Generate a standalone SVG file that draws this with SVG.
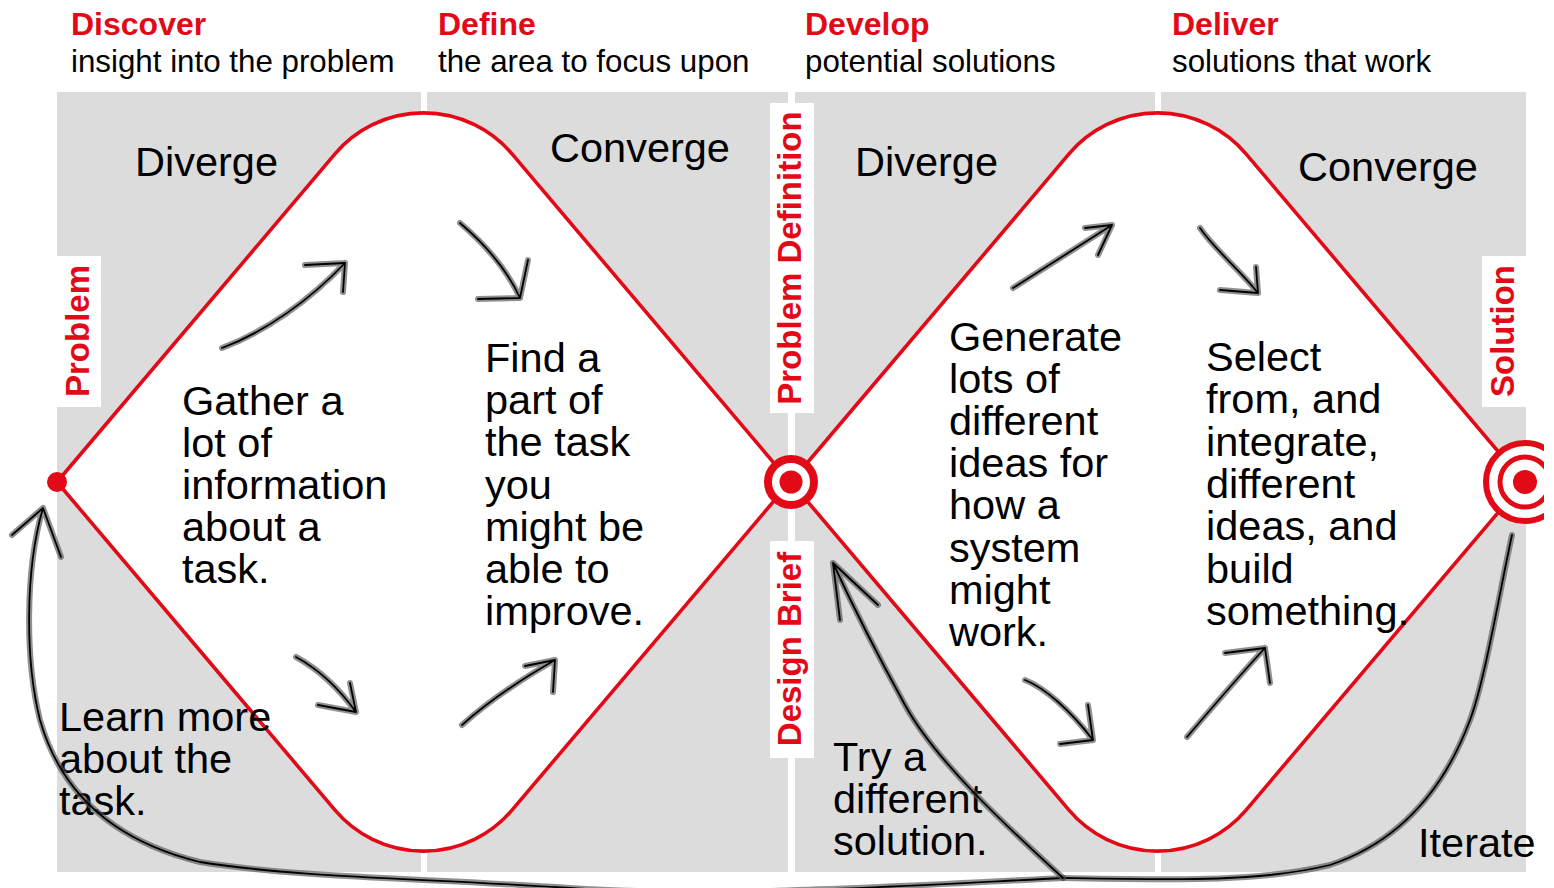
<svg xmlns="http://www.w3.org/2000/svg" xmlns:xlink="http://www.w3.org/1999/xlink" width="1554" height="888" viewBox="0 0 1554 888">
  <style>
    .panel { fill: #dcdcdc; }
    .gap { fill: #ffffff; }
    .diamond { fill: #ffffff; stroke: #e30a17; stroke-width: 3.6; stroke-linejoin: round; }
    .red { fill: #e30a17; }
    .ring { fill: #ffffff; stroke: #e30a17; }
    .head { font-family: "Liberation Sans", Arial, Helvetica, sans-serif; font-weight: bold; font-size: 32px; fill: #e30a17; }
    .sub { font-family: "Liberation Sans", Arial, Helvetica, sans-serif; font-size: 31.3px; fill: #000000; }
    .mode { font-family: "Liberation Sans", Arial, Helvetica, sans-serif; font-size: 41.5px; fill: #000000; }
    .body { font-family: "Liberation Sans", Arial, Helvetica, sans-serif; font-size: 41.5px; fill: #000000; }
    .vlabel { font-family: "Liberation Sans", Arial, Helvetica, sans-serif; font-weight: bold; font-size: 33px; fill: #e30a17; text-anchor: middle; }
    .box { fill: #ffffff; }
    .halo { fill: none; stroke: #555555; stroke-opacity: 0.65; stroke-width: 6; stroke-linecap: round; stroke-linejoin: round; }
    .ink { fill: none; stroke: #000000; stroke-width: 1.8; stroke-linecap: round; stroke-linejoin: round; }
  </style>
  <defs>
    <clipPath id="page">
      <rect x="0" y="0" width="1544" height="888"/>
    </clipPath>
    <!-- hand-drawn arrow strokes: shaft plus two barbs -->
    <path id="a1" d="M222 348 C 265 332, 310 300, 345 263 M305 265 L345 263 L343 292"/>
    <path id="a2" d="M460 223 C 480 240, 505 265, 520 298 M478 299 L520 298 L528 260"/>
    <path id="a3" d="M296 657 C 320 670, 340 690, 356 712 M318 705 L356 712 L350 683"/>
    <path id="a4" d="M462 725 C 490 700, 520 680, 555 660 M525 666 L555 660 L553 692"/>
    <path id="a5" d="M1013 288 C 1045 268, 1080 245, 1112 225 M1085 228 L1112 225 L1098 255"/>
    <path id="a6" d="M1200 228 C 1215 250, 1240 270, 1258 293 M1220 290 L1258 293 L1256 267"/>
    <path id="a7" d="M1025 680 C 1045 688, 1070 710, 1093 740 M1060 744 L1093 740 L1088 705"/>
    <path id="a8" d="M1187 737 C 1210 710, 1240 675, 1265 648 M1225 653 L1265 648 L1270 683"/>
    <path id="loopA" d="M1063 878 C 900 886, 720 898, 570 888 S 300 878, 200 862 C 110 840, 60 790, 40 720 C 25 660, 25 570, 43 508 M12 535 L43 508 L61 557"/>
    <path id="loopB" d="M1512 535 C 1500 590, 1485 680, 1470 720 C 1440 800, 1390 845, 1330 865 C 1260 882, 1180 880, 1063 878"/>
    <path id="loopC" d="M1063 878 C 1005 825, 935 760, 905 705 C 872 645, 850 600, 833 563 M840 620 L833 563 L878 605"/>
  </defs>

  <rect x="0" y="0" width="1554" height="888" fill="#ffffff"/>

  <!-- background panels -->
  <g id="panels">
    <rect class="panel" x="57" y="92" width="731" height="780"/>
    <rect class="panel" x="795" y="92" width="731" height="780"/>
    <rect class="gap" x="421" y="92" width="6" height="780"/>
    <rect class="gap" x="1155" y="92" width="6" height="780"/>
  </g>

  <!-- phase headings -->
  <g id="phase-discover">
    <text class="head" x="71" y="35">Discover</text>
    <text class="sub" x="71" y="72">insight into the problem</text>
  </g>
  <g id="phase-define">
    <text class="head" x="438" y="35">Define</text>
    <text class="sub" x="438" y="72">the area to focus upon</text>
  </g>
  <g id="phase-develop">
    <text class="head" x="805" y="35">Develop</text>
    <text class="sub" x="805" y="72">potential solutions</text>
  </g>
  <g id="phase-deliver">
    <text class="head" x="1172" y="35">Deliver</text>
    <text class="sub" x="1172" y="72">solutions that work</text>
  </g>

  <!-- first diamond: problem space -->
  <g id="diamond-problem">
    <path class="diamond" d="M57 482 L335 153.9 A116 116 0 0 1 512 153.9 L790 482 L512 810.1 A116 116 0 0 1 335 810.1 Z"/>
    <text class="mode" x="135" y="176">Diverge</text>
    <text class="mode" x="550" y="162">Converge</text>
    <text class="body" x="182" y="415">Gather a<tspan x="182" dy="42">lot of</tspan><tspan x="182" dy="42">information</tspan><tspan x="182" dy="42">about a</tspan><tspan x="182" dy="42">task.</tspan></text>
    <text class="body" x="485" y="372">Find a<tspan x="485" dy="42.2">part of</tspan><tspan x="485" dy="42.2">the task</tspan><tspan x="485" dy="42.2">you</tspan><tspan x="485" dy="42.2">might be</tspan><tspan x="485" dy="42.2">able to</tspan><tspan x="485" dy="42.2">improve.</tspan></text>
  </g>

  <!-- second diamond: solution space -->
  <g id="diamond-solution">
    <path class="diamond" d="M791 482 L1069 153.9 A116 116 0 0 1 1246 153.9 L1524 482 L1246 810.1 A116 116 0 0 1 1069 810.1 Z"/>
    <text class="mode" x="855" y="176">Diverge</text>
    <text class="mode" x="1298" y="181">Converge</text>
    <text class="body" x="949" y="351">Generate<tspan x="949" dy="42.1">lots of</tspan><tspan x="949" dy="42.1">different</tspan><tspan x="949" dy="42.1">ideas for</tspan><tspan x="949" dy="42.1">how a</tspan><tspan x="949" dy="42.1">system</tspan><tspan x="949" dy="42.1">might</tspan><tspan x="949" dy="42.1">work.</tspan></text>
    <text class="body" x="1206" y="371">Select<tspan x="1206" dy="42.3">from, and</tspan><tspan x="1206" dy="42.3">integrate,</tspan><tspan x="1206" dy="42.3">different</tspan><tspan x="1206" dy="42.3">ideas, and</tspan><tspan x="1206" dy="42.3">build</tspan><tspan x="1206" dy="42.3">something.</tspan></text>
  </g>

  <!-- milestones -->
  <g id="milestone-problem">
    <rect class="box" x="57" y="256" width="44" height="151"/>
    <text class="vlabel" transform="translate(89 331) rotate(-90)">Problem</text>
    <circle class="red" cx="57" cy="482" r="10"/>
  </g>
  <g id="milestone-definition">
    <rect class="box" x="770" y="103" width="44" height="310"/>
    <text class="vlabel" transform="translate(801 258) rotate(-90)">Problem Definition</text>
    <circle class="ring" cx="791" cy="482" r="23" stroke-width="8"/>
    <circle class="red" cx="791" cy="482" r="11.5"/>
  </g>
  <g id="milestone-brief">
    <rect class="box" x="770" y="541" width="44" height="217"/>
    <text class="vlabel" transform="translate(801 649) rotate(-90)">Design Brief</text>
  </g>
  <g id="milestone-solution">
    <rect class="box" x="1482" y="256" width="44" height="151"/>
    <text class="vlabel" transform="translate(1514 331) rotate(-90)">Solution</text>
    <g clip-path="url(#page)">
      <circle class="ring" cx="1525" cy="482" r="39" stroke-width="6"/>
      <circle cx="1525" cy="482" r="25" fill="none" stroke="#e30a17" stroke-width="5"/>
      <circle class="red" cx="1525" cy="482" r="12"/>
    </g>
  </g>

  <!-- feedback notes -->
  <g id="note-learn">
    <text class="body" x="59" y="731">Learn more<tspan x="59" dy="42">about the</tspan><tspan x="59" dy="42">task.</tspan></text>
  </g>
  <g id="note-retry">
    <text class="body" x="833" y="771">Try a<tspan x="833" dy="42">different</tspan><tspan x="833" dy="42">solution.</tspan></text>
  </g>
  <g id="note-iterate">
    <text class="body" x="1418" y="857">Iterate</text>
  </g>

  <!-- sketched connectors -->
  <g id="connectors">
    <use xlink:href="#a1" class="halo"/><use xlink:href="#a1" class="ink"/>
    <use xlink:href="#a2" class="halo"/><use xlink:href="#a2" class="ink"/>
    <use xlink:href="#a3" class="halo"/><use xlink:href="#a3" class="ink"/>
    <use xlink:href="#a4" class="halo"/><use xlink:href="#a4" class="ink"/>
    <use xlink:href="#a5" class="halo"/><use xlink:href="#a5" class="ink"/>
    <use xlink:href="#a6" class="halo"/><use xlink:href="#a6" class="ink"/>
    <use xlink:href="#a7" class="halo"/><use xlink:href="#a7" class="ink"/>
    <use xlink:href="#a8" class="halo"/><use xlink:href="#a8" class="ink"/>
    <use xlink:href="#loopA" class="halo"/><use xlink:href="#loopA" class="ink"/>
    <use xlink:href="#loopB" class="halo"/><use xlink:href="#loopB" class="ink"/>
    <use xlink:href="#loopC" class="halo"/><use xlink:href="#loopC" class="ink"/>
  </g>
</svg>
